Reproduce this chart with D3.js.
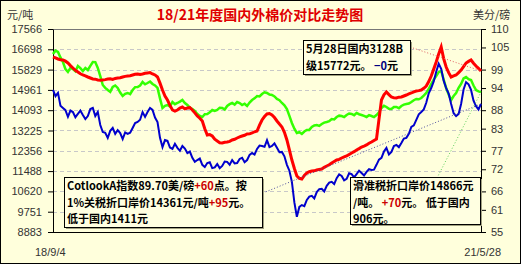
<!DOCTYPE html>
<html>
<head>
<meta charset="utf-8">
<script src="https://cdn.jsdelivr.net/npm/d3@7"></script>
<style>
  body { margin: 0; background: #fff; }
  svg text { font-family: "Liberation Sans", "Noto Sans CJK SC", sans-serif; }
</style>
</head>
<body>
<div id="chart"></div>
<script>
// domestic 3128B price (yuan/ton, left axis)
var domestic = [16368,16330,16283,16250,16240,16190,16112,16000,15898,15800,15727,15650,15599,15560,15513,15470,15427,15420,15385,15370,
  15385,15400,15427,15440,15410,15450,15470,15480,15513,15540,15556,15570,15599,15630,15641,15620,15641,15670,15684,15700,
  15641,15600,15513,15250,14957,14700,14529,14300,14102,14050,14102,14180,14230,14150,14187,14200,14102,13980,13845,13750,
  13631,13300,13032,13050,12990,12850,12776,12700,12690,12720,12733,12760,12819,12850,12904,12950,12990,13020,13075,13080,
  13118,13170,13203,13450,13674,13820,13931,13950,13888,13780,13631,13500,13375,13150,12819,12400,11963,11600,11279,11180,
  11150,11300,11407,11460,11493,11500,11535,11560,11578,11650,11707,11760,11835,11900,11963,11990,12049,12100,12134,12200,
  12263,12320,12391,12450,12519,12560,12605,12680,12733,12800,12861,13700,14529,14750,14871,14760,14658,14620,14615,14650,
  14658,14700,14743,14790,14829,14880,14914,14930,14957,15030,15128,15320,15556,15850,16155,16500,16796,16300,15941,15700,
  15513,15560,15599,15700,15812,15960,16112,16180,16240,16100,15984,15880,15772];
// import cost under sliding tariff (yuan/ton, left axis)
var sliding = [16497,16640,16582,16350,16155,15850,15727,15900,15855,15760,15984,15890,15770,15900,15812,15990,16155,16150,15898,15550,
  15171,15050,14957,14880,15085,15150,15043,14850,14700,14790,14829,14780,14957,15080,15085,15150,15299,15200,15256,15320,
  15214,15150,15043,14600,14187,14280,14315,14250,14444,14350,14401,14460,14529,14400,14315,14200,14144,14060,13931,13850,
  13802,13920,13931,14000,14102,14060,14102,14200,14187,14120,14273,14350,14401,14330,14444,14400,14315,14370,14273,14420,
  14529,14600,14700,14680,14786,14860,14829,14760,14743,14680,14572,14520,14401,14300,14144,13850,13546,13300,13118,13150,
  13075,13180,13246,13250,13375,13440,13460,13420,13503,13560,13588,13620,13717,13700,13802,13860,13845,13800,13888,13950,
  13931,13880,13973,13920,13888,13850,13802,13880,13845,13800,13888,14000,14187,14280,14230,14150,14144,14230,14230,14180,
  14273,14330,14358,14380,14444,14520,14572,14560,14615,14720,14829,15000,15214,15400,15556,15720,15770,15400,15043,14760,
  14529,14700,14829,15050,15214,15450,15513,15420,15385,15150,14957,14900,14866];
// Cotlook A index (US cents/lb, right axis)
var cotlook = [93.5,91.8,92.7,89.2,88.6,88.0,86.2,87.9,87.5,86.1,87.0,87.9,86.7,85.6,86.4,88.3,88.6,86.4,87.5,84.0,
  82.1,81.9,80.5,82.4,83.2,81.6,82.6,81.8,80.2,82.0,81.6,81.9,83.2,84.5,84.8,85.4,87.5,86.2,87.5,88.6,
  88.1,86.0,84.8,80.5,78.0,79.9,79.7,77.9,77.5,78.9,77.8,77.0,78.3,77.6,76.4,76.8,75.1,74.0,74.5,74.9,
  73.2,72.6,73.7,73.9,72.3,72.5,73.4,72.3,72.9,74.1,74.0,73.2,74.5,73.6,73.7,74.8,75.1,73.9,74.5,75.9,
  76.4,76.0,77.5,78.4,78.3,78.1,79.9,78.0,78.3,79.0,77.8,76.6,76.7,75.5,73.2,71.6,68.6,63.0,59.1,61.8,
  62.3,62.0,63.7,64.6,64.8,64.1,65.8,66.6,66.7,66.0,67.5,68.4,68.6,68.0,69.6,70.6,70.2,69.0,69.4,70.9,
  70.7,69.8,70.7,71.6,71.0,70.3,71.3,72.0,71.8,71.9,73.2,74.6,75.1,76.8,77.8,76.0,76.7,78.3,78.6,78.0,
  79.1,80.3,80.5,81.6,83.5,83.9,85.4,86.9,87.5,88.2,90.0,92.6,94.0,95.8,98.4,100.6,99.2,96.0,94.0,92.5,
  89.7,87.2,86.4,87.0,89.7,93.6,95.6,95.0,93.5,90.6,89.1,88.2,89.7];

var leftTicks = [8883,9751,10620,11488,12356,13225,14093,14961,15829,16698,17566];
var rightTicks = [55,61,66,72,77,83,88,94,99,105,110];
var dateLabels = ["18/9/4", "21/5/28"];

var W = 524, H = 268;
var margin = {top: 29, right: 43, bottom: 36, left: 53},
    width = 481 - margin.left,
    height = 232 - margin.top;

var bg = "#ffffdc";

var svg = d3.select("#chart")
  .append("svg")
    .attr("width", W)
    .attr("height", H);

svg.append("rect")
  .attr("x", 0.5).attr("y", 0.5)
  .attr("width", 520).attr("height", 263)
  .attr("fill", bg)
  .attr("stroke", "#000");

var g = svg.append("g")
  .attr("transform", "translate(" + margin.left + "," + margin.top + ")");

var x = d3.scaleLinear()
  .domain([0, domestic.length - 1])
  .range([0, width]);

var yL = d3.scaleLinear()
  .domain([8883, 17566])
  .range([height, 0]);

var yR = d3.scaleLinear()
  .domain([55, 110])
  .range([height, 0]);

// grid
g.selectAll(".grid")
  .data(leftTicks.slice(1, -1))
  .enter().append("line")
    .attr("x1", 0).attr("x2", width)
    .attr("y1", function(d) { return Math.round(yL(d)) + 0.5; })
    .attr("y2", function(d) { return Math.round(yL(d)) + 0.5; })
    .attr("stroke", "#c8c8c8")
    .attr("stroke-dasharray", "4,3");

// frame top
g.append("line")
  .attr("x1", 0).attr("x2", width)
  .attr("y1", 0.5).attr("y2", 0.5)
  .attr("stroke", "#777");

// left axis
var axL = g.append("g")
  .attr("class", "axisL")
  .call(d3.axisLeft(yL).tickValues(leftTicks).tickSize(5).tickSizeOuter(0).tickPadding(6)
    .tickFormat(d3.format("d")));
axL.selectAll("text").attr("font-size", "11px").attr("fill", "#333");

// right axis
var axR = g.append("g")
  .attr("transform", "translate(" + width + ",0)")
  .call(d3.axisRight(yR).tickValues(rightTicks).tickSize(5).tickSizeOuter(0).tickPadding(5));
axR.selectAll("text").attr("font-size", "11px").attr("fill", "#333");

// bottom line
g.append("line")
  .attr("x1", 0).attr("x2", width)
  .attr("y1", height + 0.5).attr("y2", height + 0.5)
  .attr("stroke", "#000");

var lineL = function(arr) {
  return d3.line().x(function(d, i) { return x(i); }).y(function(d) { return yL(d); })(arr);
};
var lineR = function(arr) {
  return d3.line().x(function(d, i) { return x(i); }).y(function(d) { return yR(d); })(arr);
};

g.append("path").attr("d", lineL(sliding))
  .attr("fill", "none").attr("stroke", "#33ff00").attr("stroke-width", 2.5);
g.append("path").attr("d", lineL(domestic))
  .attr("fill", "none").attr("stroke", "#ff0000").attr("stroke-width", 3);
g.append("path").attr("d", lineR(cotlook))
  .attr("fill", "none").attr("stroke", "#0000cc").attr("stroke-width", 2);

var last = domestic.length - 1;

// leader lines from boxes to line ends
var leaders = [
  {x1: 413 - margin.left, y1: 48 - margin.top, y2: yL(domestic[last]), c: "#e06060"},
  {x1: 263 - margin.left, y1: 193 - margin.top, y2: yR(cotlook[last]), c: "#5050a0"},
  {x1: 437 - margin.left, y1: 178 - margin.top, y2: yL(sliding[last]), c: "#60d060"}
];
g.selectAll(".leader")
  .data(leaders)
  .enter().append("line")
    .attr("x1", function(d) { return d.x1; })
    .attr("y1", function(d) { return d.y1; })
    .attr("x2", x(last))
    .attr("y2", function(d) { return d.y2; })
    .attr("stroke", function(d) { return d.c; })
    .attr("stroke-width", 1)
    .attr("stroke-dasharray", "1,2");

// annotation boxes
function box(bx, by, bw, bh, lines) {
  svg.append("rect")
    .attr("x", bx + 2).attr("y", by + 2).attr("width", bw).attr("height", bh)
    .attr("fill", "#a0a080");
  svg.append("rect")
    .attr("x", bx + 0.5).attr("y", by + 0.5).attr("width", bw).attr("height", bh)
    .attr("fill", "#ffffe1").attr("stroke", "#000");
  lines.forEach(function(parts, i) {
    var t = svg.append("text")
      .attr("x", bx + 3)
      .attr("y", by + 13 + i * 16.5)
      .attr("font-size", "11px")
      .attr("font-weight", "bold")
      .style("font-family", "'Noto Sans CJK SC', sans-serif");
    parts.forEach(function(p) {
      t.append("tspan").text(p[0]).attr("fill", p[1] || "#000");
    });
  });
}

box(303, 40, 107, 34, [
  [["5月28日国内3128B"]],
  [["级15772元。 "], ["−0", "#000080"], ["元"]]
]);
box(64, 177, 198, 50, [
  [["CotlookA指数89.70美/磅"], ["+60", "#cc0000"], ["点。按"]],
  [["1%关税折口岸价14361元/吨"], ["+95", "#cc0000"], ["元。"]],
  [["低于国内1411元"]]
]);
box(350, 177, 130, 47, [
  [["滑准税折口岸价14866元"]],
  [["/吨。 "], ["+70", "#cc0000"], ["元。 低于国内"]],
  [["906元。"]]
]);

// titles and units
svg.append("text")
  .attr("x", 260).attr("y", 20)
  .attr("text-anchor", "middle")
  .attr("font-size", "14px")
  .attr("font-weight", "bold")
  .attr("fill", "#e00000")
  .style("font-family", "'Noto Sans CJK SC', sans-serif")
  .text("18/21年度国内外棉价对比走势图");

svg.append("text").attr("x", 7).attr("y", 19)
  .attr("font-size", "11px").attr("fill", "#333")
  .style("font-family", "'Noto Sans CJK SC', sans-serif")
  .text("元/吨");
svg.append("text").attr("x", 473).attr("y", 19)
  .attr("font-size", "11px").attr("fill", "#333")
  .style("font-family", "'Noto Sans CJK SC', sans-serif")
  .text("美分/磅");

svg.selectAll(".date")
  .data(dateLabels)
  .enter().append("text")
    .attr("x", function(d, i) { return i === 0 ? 35 : 501; })
    .attr("y", 256)
    .attr("text-anchor", function(d, i) { return i === 0 ? "start" : "end"; })
    .attr("font-size", "11px")
    .attr("fill", "#333")
    .text(function(d) { return d; });
</script>
</body>
</html>
